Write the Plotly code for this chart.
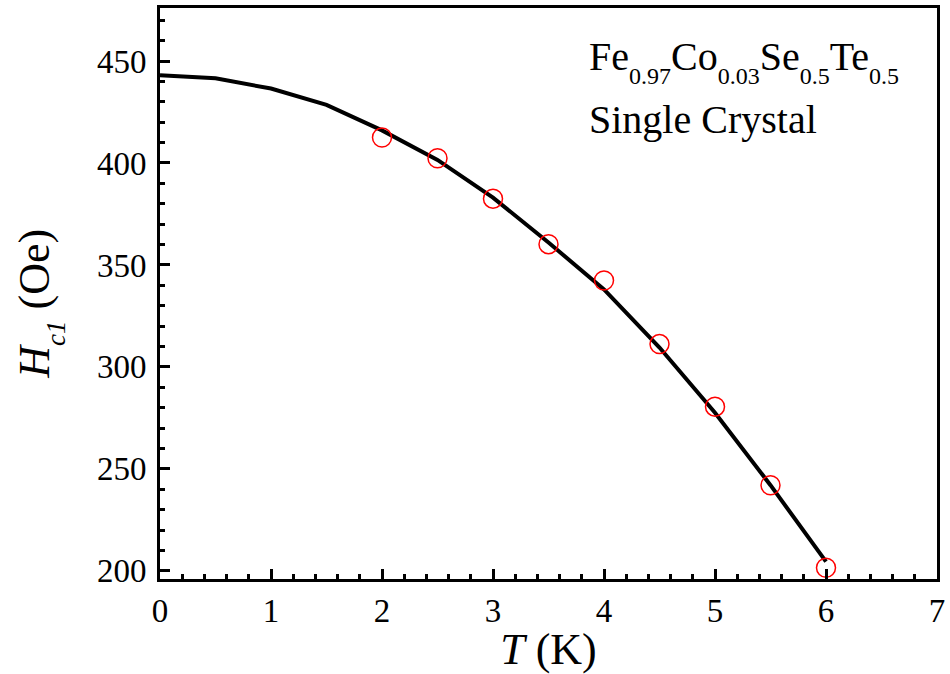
import plotly.graph_objects as go

# Measured data (red open circles)
T_data = [2.0, 2.5, 3.0, 3.5, 4.0, 4.5, 5.0, 5.5, 6.0]
Hc1_data = [412.5, 402.3, 382.5, 360.2, 342.4, 311.2, 280.5, 242.0, 201.5]

# Fit curve (black line)
T_fit = [0.0, 0.5, 1.0, 1.5, 2.0, 2.5, 3.0, 3.5, 4.0, 4.5, 5.0, 5.5, 6.0]
Hc1_fit = [443.0, 441.5, 436.5, 428.5, 416.0, 401.5, 383.0, 361.0, 338.0, 309.5, 277.5, 242.0, 204.5]

x_ticks = [0, 1, 2, 3, 4, 5, 6, 7]
y_ticks = [200, 250, 300, 350, 400, 450]

FONT = "Liberation Serif"


def lowsub(s, px):
    return "<sub><sub><span style='font-size:%dpx'>%s</span></sub></sub>" % (px, s)


fig = go.Figure()
fig.add_trace(go.Scatter(x=T_fit, y=Hc1_fit, mode="lines",
                         line=dict(color="black", width=4), showlegend=False))
fig.add_trace(go.Scatter(x=T_data, y=Hc1_data, mode="markers",
                         marker=dict(symbol="circle-open", size=19,
                                     color="red", line=dict(color="red", width=1.5)),
                         showlegend=False))

axis_common = dict(
    showgrid=False, zeroline=False, showline=True, linecolor="black", linewidth=3,
    mirror=True, ticks="inside", ticklen=10, tickwidth=3, tickcolor="black",
    tickfont=dict(family=FONT, size=33, color="black"),
)

fig.update_xaxes(range=[0, 7], tickvals=x_ticks,
                 minor=dict(dtick=0.2, ticks="inside", ticklen=5, tickwidth=3, tickcolor="black"),
                 title=dict(text="<i>T</i> (K)", font=dict(family=FONT, size=44, color="black"), standoff=3),
                 **axis_common)
fig.update_yaxes(range=[196, 476], tickvals=y_ticks, ticklabelstandoff=4,
                 minor=dict(dtick=10, ticks="inside", ticklen=5, tickwidth=3, tickcolor="black"),
                 **axis_common)

# y-axis title
fig.add_annotation(xref="paper", yref="paper", x=-0.154, y=0.4826, xanchor="center", yanchor="middle",
                   textangle=-90, showarrow=False,
                   text="<i>H</i>" + lowsub("<i>c1</i>", 27) + " (Oe)",
                   font=dict(family=FONT, size=44, color="black"))

fig.add_annotation(xref="paper", yref="paper", x=0.549, y=0.906, xanchor="left", yanchor="middle",
                   text="Fe" + lowsub("0.97", 24) + "Co" + lowsub("0.03", 24)
                        + "Se" + lowsub("0.5", 24) + "Te" + lowsub("0.5", 24),
                   showarrow=False, font=dict(family=FONT, size=40, color="black"))
fig.add_annotation(xref="paper", yref="paper", x=0.549, y=0.805, xanchor="left", yanchor="middle",
                   text="Single Crystal",
                   showarrow=False, font=dict(family=FONT, size=40, color="black"))

fig.update_layout(
    width=950, height=674,
    margin=dict(l=160, r=12, t=5, b=95),
    plot_bgcolor="white", paper_bgcolor="white",
)

fig.write_html("out.html", config={"displayModeBar": False},
               post_script="document.body.style.margin='0';")
